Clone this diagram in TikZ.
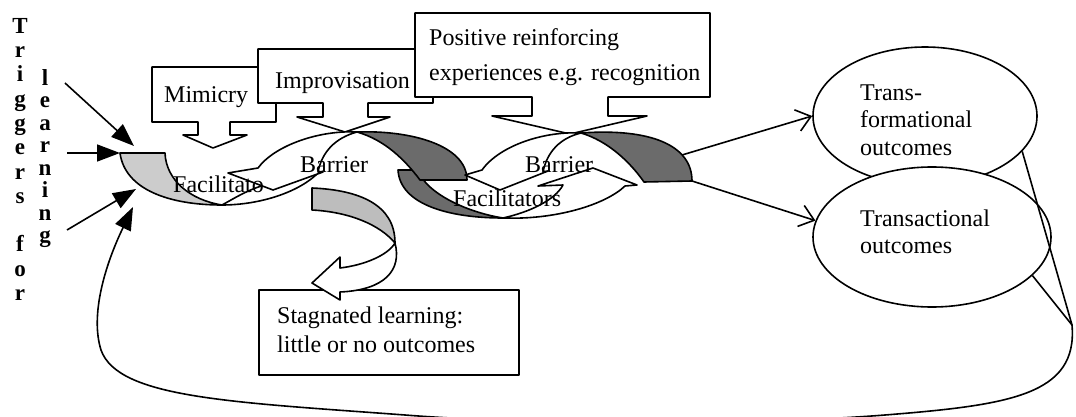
\documentclass[tikz,border=0pt]{standalone}
\usepackage{fontspec}
\setmainfont{Liberation Serif}
\usetikzlibrary{arrows.meta,shapes.geometric}
\tikzset{
  outl/.style={draw=black, line width=1.6pt, line join=round},
  wfill/.style={outl, fill=white},
  lightback/.style={outl, fill=black!20},
  midback/.style={outl, fill=black!26},
  darkback/.style={outl, fill=black!58},
  lbl/.style={font=\fontsize{24}{28}\selectfont, anchor=base west, inner sep=0pt},
  vcol/.style={align=center, anchor=north, inner sep=0pt},
  conn/.style={line width=1.6pt},
  trig/.style={conn, -{Triangle[length=23pt,width=17pt]}},
  openarr/.style={conn, -{Straight Barb[length=14pt,width=22pt,line width=1.6pt]}},
}
\begin{document}
\begin{tikzpicture}[x=1pt,y=-1pt]
\useasboundingbox (0,0) rectangle (1076,417);
\clip (0,0) rectangle (1076,417);

% callout boxes with down arrows
\draw[wfill] (152,67) -- (276,67) -- (276,122) -- (230,122) -- (230,135) -- (247,135) -- (213,148) -- (183,135) -- (198,135) -- (198,122) -- (152,122) -- cycle;
\node[lbl] (mim) at (164,103) {Mimicry};
\draw[wfill] (258,49) -- (433,49) -- (433,103) -- (368,103) -- (368,117) -- (390,117) -- (345,132) -- (297,117) -- (323,117) -- (323,103) -- (258,103) -- cycle;
\node[lbl] (imp) at (275,89) {Improvisation};
\draw[wfill] (415,13) -- (710,13) -- (710,97) -- (608,97) -- (608,116) -- (647,116) -- (570,134) -- (492,116) -- (532,116) -- (532,97) -- (415,97) -- cycle;
\node[lbl] (pos1) at (429,46) {Positive reinforcing};
\node[lbl] (pos2) at (429,81) {experiences e.g. recognition};

% A: first facilitators arrow
\draw[lightback] (120,153) -- (165,153) .. controls (166,180) and (190,200) .. (222,205) .. controls (170,205) and (125,190) .. (120,153) -- cycle;
\draw[wfill] (222,205) .. controls (260,205) and (300,192) .. (319,172) -- (272,183) .. controls (250,188) and (235,198) .. (222,205) -- cycle;

% C: second facilitators arrow
\draw[darkback] (398,170) -- (418,170) .. controls (425,192) and (465,212) .. (503,218) .. controls (450,218) and (400,205) .. (398,170) -- cycle;
\draw[wfill] (503,218) .. controls (555,220) and (605,205) .. (625,186) -- (637,185) -- (593,168) -- (538,186) -- (563,185) .. controls (555,200) and (530,212) .. (503,218) -- cycle;

% B: first barrier arrow
\draw[darkback] (357,132) .. controls (410,130) and (467,145) .. (467,180) -- (420,180) .. controls (405,160) and (385,140) .. (357,132) -- cycle;
\draw[wfill] (357,132) .. controls (320,130) and (275,145) .. (258,168) -- (228,173) -- (273,190) -- (323,172) -- (318,172) .. controls (322,152) and (335,138) .. (357,132) -- cycle;

% D: second barrier arrow
\draw[darkback] (581,133) .. controls (650,128) and (692,145) .. (692,181) -- (644,182) .. controls (630,162) and (608,141) .. (581,133) -- cycle;
\draw[wfill] (581,133) .. controls (545,131) and (500,145) .. (482,170) -- (465,175) -- (500,190) -- (548,171) -- (543,172) .. controls (547,152) and (560,138) .. (581,133) -- cycle;

\node[lbl] (bar1) at (300,172) {Barrier};
\node[lbl] (bar2) at (525,172) {Barrier};
\begin{scope}
\clip (165,165) rectangle (263,205);
\node[lbl] (fac1) at (173,192) {Facilitators};
\end{scope}
\node[lbl] (fac2) at (453,206) {Facilitators};

% stagnated box
\node[wfill, minimum width=260pt, minimum height=85pt, inner sep=0pt, anchor=north west] (stag) at (258,289) {};
\node[lbl] (st1) at (277,323) {Stagnated learning:};
\node[lbl] (st2) at (277,352) {little or no outcomes};

% E: arrow to stagnated learning
\draw[midback] (312,188) .. controls (360,190) and (395,205) .. (395,243) .. controls (380,225) and (350,212) .. (312,210) -- cycle;
\draw[wfill] (395,243) .. controls (402,270) and (385,290) .. (340,292) -- (340,300) -- (312,283) -- (340,257) -- (340,268) .. controls (365,265) and (388,255) .. (395,243) -- cycle;

% outcome ellipses
\node[ellipse, wfill, minimum width=224pt, minimum height=138pt, inner sep=0pt] (e1) at (925,116) {};
\node[lbl] (e1a) at (860,101) {Trans-};
\node[lbl] (e1b) at (860,128) {formational};
\node[lbl] (e1c) at (860,155) {outcomes};
\node[ellipse, wfill, minimum width=238pt, minimum height=140pt, inner sep=0pt] (e2) at (932,237) {};
\node[lbl] (e2a) at (860,226) {Transactional};
\node[lbl] (e2b) at (860,253) {outcomes};

% connectors to outcomes
\coordinate (d1) at (682,155);
\coordinate (d2) at (692,181);
\draw[openarr] (d1) -- (e1.180);
\draw[openarr] (d2) -- (e2.172);

% feedback loop
\coordinate (conv) at (1072,325);
\coordinate (fb1) at (885,415);
\coordinate (fb2) at (405,415);
\coordinate (fb3) at (101,350);
\coordinate (fbtip) at (133,207);
\draw[conn] (e1.-20) -- (conv);
\draw[conn] (e2.-21) -- (conv);
\draw[trig] (conv) .. controls (1078,395) and (1010,405) .. (fb1) .. controls (760,425) and (530,425) .. (fb2) .. controls (230,402) and (118,398) .. (fb3) .. controls (90,315) and (105,265) .. (fbtip);

% triggers
\coordinate (t1s) at (65,83);
\coordinate (t1e) at (134,146);
\coordinate (t2s) at (67,153);
\coordinate (t2e) at (120,153);
\coordinate (t3s) at (67,230);
\coordinate (t3e) at (136,189);
\draw[trig] (t1s) -- (t1e);
\draw[trig] (t2s) -- (t2e);
\draw[trig] (t3s) -- (t3e);

% vertical stacked text
\node[vcol, font=\fontsize{23}{24.3}\selectfont\bfseries] (trigtxt) at (20,18)
  {T\\r\\i\\g\\g\\e\\r\\s\\[24.3pt]f\\o\\r};
\node[vcol, font=\fontsize{23}{22.5}\selectfont\bfseries] (learntxt) at (45,69)
  {l\\e\\a\\r\\n\\i\\n\\g};
\end{tikzpicture}
\end{document}
